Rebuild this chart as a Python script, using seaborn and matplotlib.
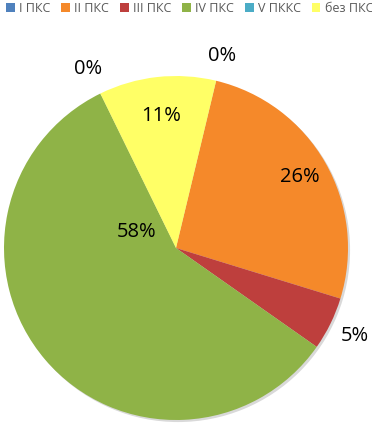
import numpy as np
import matplotlib
matplotlib.use("Agg")
import matplotlib.pyplot as plt
from matplotlib.patches import Patch
import seaborn as sns

categories = ["I ПКС", "II ПКС", "III ПКС", "IV ПКС", "V ПККС", "без ПКС"]
values = [0, 26, 5, 58, 0, 11]
pct_labels = ["0%", "26%", "5%", "58%", "0%", "11%"]

sns.set_theme(style="white")
plt.rcParams['font.family'] = ['Open Sans', 'DejaVu Sans']

colors = sns.color_palette(["#4F81BD", "#F5892A", "#BE3F3D", "#8FB347", "#4BACC6", "#FFFF66"])

fig = plt.figure(figsize=(3.72, 4.28), dpi=100)
W, H = 372, 428
cx, cy, r = 176, 248, 172
ax = fig.add_axes([(cx - r) / W, (H - cy - r) / H, 2 * r / W, 2 * r / H])

start = 76.5
# subtle shadow
ax.pie([1], radius=1.0, center=(0.012, -0.012), colors=["#d9d9d9"], startangle=0,
       wedgeprops=dict(linewidth=0))
wedges, _ = ax.pie(values, colors=colors, startangle=start, counterclock=False,
                   radius=1.0, wedgeprops=dict(linewidth=0))
ax.set_xlim(-1, 1)
ax.set_ylim(-1, 1)
ax.set_aspect("equal")
ax.axis("off")

# label placement (radial factor, angle override in degrees or None)
label_r = [1.15, 0.83, 1.16, 0.25, 1.16, 0.77]
label_ang = [None, None, None, 158, None, None]
total = sum(values)
cum = 0
for v, lab, rf, ao in zip(values, pct_labels, label_r, label_ang):
    mid = start - (cum + v / 2) / total * 360
    cum += v
    if ao is not None:
        mid = ao
    x = rf * np.cos(np.radians(mid))
    y = rf * np.sin(np.radians(mid))
    ax.text(x, y, lab, ha="center", va="center", fontsize=14.5, color="black")

handles = [Patch(facecolor=c, edgecolor="none") for c in colors]
fig.legend(handles, categories, loc="upper left", bbox_to_anchor=(0.0, 1.01), ncol=6,
           frameon=False, fontsize=9, handlelength=0.7, handleheight=0.7,
           handletextpad=0.35, columnspacing=0.85, labelcolor="#595959", borderaxespad=0.1)

fig.savefig("out.png", dpi=100)
